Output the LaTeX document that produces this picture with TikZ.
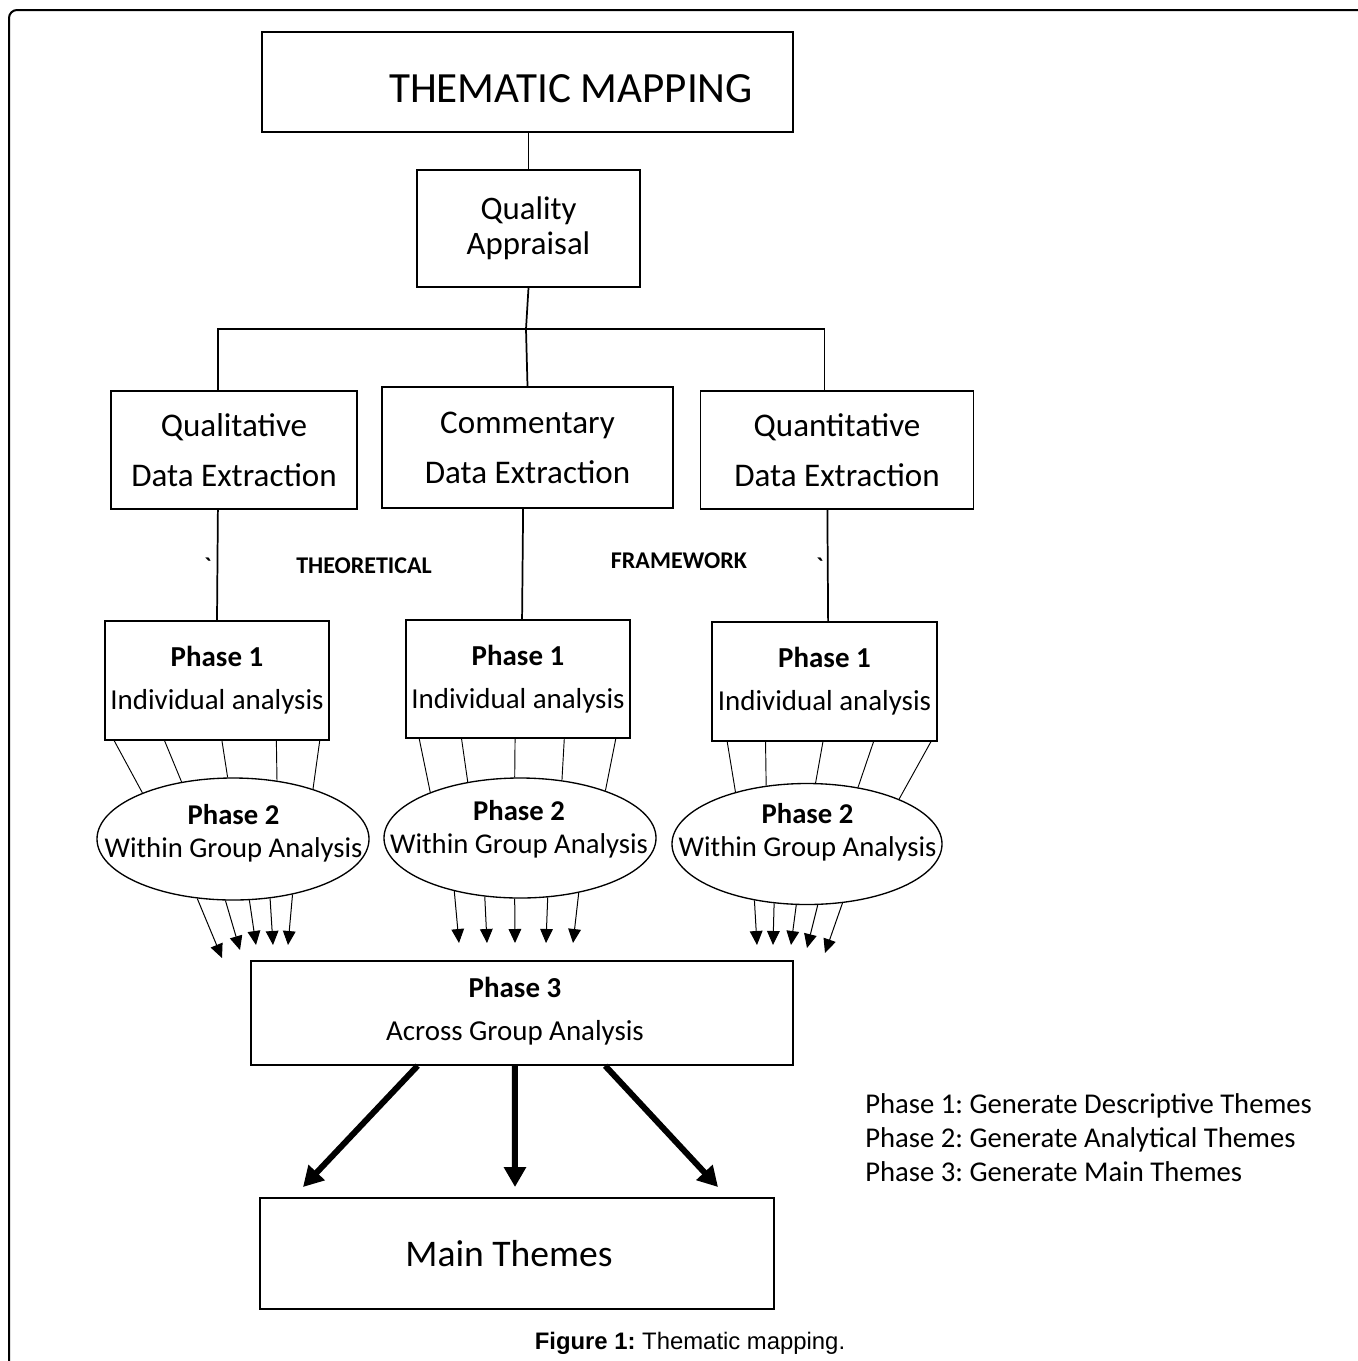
\documentclass[tikz,border=0pt]{standalone}
\usepackage{fontspec}
\setmainfont{Carlito}
\newfontfamily\capfont{Liberation Sans}
\usetikzlibrary{shapes.geometric,arrows.meta,calc}
\frenchspacing
\begin{document}
\begin{tikzpicture}[x=0.75pt,y=-0.75pt,
  box/.style={draw,line width=1.3pt,inner sep=0pt,align=center},
  ell/.style={draw,ellipse,line width=1pt,inner sep=0pt},
  conn/.style={line width=1.3pt},
  thinline/.style={line width=0.7pt},
  tarrow/.style={line width=0.75pt,-{Triangle[length=10.5pt,width=9.5pt]}},
  bigarrow/.style={line width=4.5pt,-{Triangle[length=15pt,width=16pt]}},
  ftitle/.style={font=\fontsize{32.3}{38}\selectfont},
  fqa/.style={font=\fontsize{24.6}{26.25}\selectfont},
  fde/.style={font=\fontsize{24.8}{37.5}\selectfont},
  fph/.style={font=\fontsize{21.7}{32.25}\selectfont},
  fel/.style={font=\fontsize{21.5}{24.75}\selectfont},
  fmain/.style={font=\fontsize{28.2}{34}\selectfont},
  flegend/.style={font=\fontsize{21.5}{25.5}\selectfont},
  ftheo/.style={font=\fontsize{18}{22}\selectfont\bfseries},
]
\useasboundingbox (0,0) rectangle (1358,1361);
% outer frame
\draw[line width=1.5pt,rounded corners=6pt] (1358,10) -- (9,10) -- (9,1361);

% title
\node[box,minimum width=398.25pt,minimum height=75pt] (title) at (527.5,82) {};
\node[ftitle] (titletext) at (571,89) {THEMATIC MAPPING};

% quality appraisal
\node[box,fqa,minimum width=167.25pt,minimum height=87.75pt] (qa) at (528.5,228.5) {Quality\\Appraisal};

% extraction boxes
\node[box,fde,minimum width=184.5pt,minimum height=88.5pt] (qual) at (234,450) {Qualitative\\Data Extraction};
\node[box,fde,minimum width=218.25pt,minimum height=90.75pt] (comm) at (527.5,447.5) {Commentary\\Data Extraction};
\node[box,fde,minimum width=204.75pt,minimum height=88.5pt] (quant) at (837,450) {Quantitative\\Data Extraction};

% top connectors
\coordinate (j) at (526,329);
\draw[conn] (title.south) -- (qa.south |- title.south) -- (qa.north);
\draw[conn] (qa.south) -- (j) -- (comm.north);
\draw[conn] ($(qual.north west)!0.435!(qual.north east)$) |- (j) -| ($(quant.north west)!0.454!(quant.north east)$);

% theoretical framework
\node[ftheo] (theo) at (364,566) {THEORETICAL};
\node[ftheo] (frame) at (679,561) {FRAMEWORK};
\node[ftheo] (tick1) at (208,566) {\textasciigrave};
\node[ftheo] (tick2) at (820,566) {\textasciigrave};

% phase 1 boxes
\node[box,fph,minimum width=168pt,minimum height=89.25pt] (p1a) at (217,680.5) {\textbf{Phase 1}\\Individual analysis};
\node[box,fph,minimum width=168pt,minimum height=88.5pt] (p1b) at (518,679) {\textbf{Phase 1}\\Individual analysis};
\node[box,fph,minimum width=168.75pt,minimum height=89.25pt] (p1c) at (824.5,681.5) {\textbf{Phase 1}\\Individual analysis};

\draw[conn] ($(qual.south west)!0.435!(qual.south east)$) -- (p1a.north);
\draw[conn] ($(comm.south west)!0.485!(comm.south east)$) -- ($(p1b.north west)!0.518!(p1b.north east)$);
\draw[conn] ($(quant.south west)!0.465!(quant.south east)$) -- ($(p1c.north west)!0.516!(p1c.north east)$);

% phase 2 ellipses
\node[ell,minimum width=204pt,minimum height=91.5pt] (e1) at (233,839) {};
\node[ell,minimum width=204pt,minimum height=90pt] (e2) at (520,838) {};
\node[ell,minimum width=202.5pt,minimum height=90.75pt] (e3) at (807,844) {};
\node[fel,align=center] (e1t) at (233.5,833) {\textbf{Phase 2}\\Within Group Analysis};
\node[fel,align=center] (e2t) at (519,829) {\textbf{Phase 2}\\Within Group Analysis};
\node[fel,align=center] (e3t) at (807.5,832) {\textbf{Phase 2}\\Within Group Analysis};

% phase1 -> phase2 lines
\foreach \f/\a in {0.045/153,0.268/132,0.522/95,0.763/53,0.955/32}
  \draw[thinline] ($(p1a.south west)!\f!(p1a.south east)$) -- (e1.\a);
\foreach \f/\a in {0.0625/153,0.25/133,0.487/95,0.705/54,0.933/29}
  \draw[thinline] ($(p1b.south west)!\f!(p1b.south east)$) -- (e2.\a);
\foreach \f/\a in {0.071/144,0.24/125,0.493/82,0.716/48,0.969/26}
  \draw[thinline] ($(p1c.south west)!\f!(p1c.south east)$) -- (e3.\a);

% phase2 -> phase3 arrows
\foreach \a/\x/\y [count=\i] in {239/222/958,263/240/950,285/256/945,302/273/945,317/288/945}{
  \coordinate (tl\i) at (\x,\y);
  \draw[tarrow] (e1.\a) -- (tl\i);}
\foreach \a/\x/\y [count=\i] in {219/459/943,239/487/943,265/515/943,295/546/943,317/573/943}{
  \coordinate (tm\i) at (\x,\y);
  \draw[tarrow] (e2.\a) -- (tm\i);}
\foreach \a/\x/\y [count=\i] in {227/757/945,241/773/945,260/791/945,280/807/948,301/825/953}{
  \coordinate (tr\i) at (\x,\y);
  \draw[tarrow] (e3.\a) -- (tr\i);}

% phase 3
\node[box,line width=1.1pt,minimum width=406.5pt,minimum height=78pt] (p3) at (522,1013) {};
\node[fph,align=center] (p3t) at (515,1011) {\textbf{Phase 3}\\Across Group Analysis};

% main themes
\node[box,minimum width=385.5pt,minimum height=83.25pt] (main) at (517,1253.5) {};
\node[fmain] (maint) at (509,1254) {Main Themes};

\coordinate (b1) at (303,1187);
\coordinate (b2) at (515,1187);
\coordinate (b3) at (718,1187);
\draw[bigarrow] ($(p3.south west)!0.308!(p3.south east)$) -- (b1);
\draw[bigarrow] ($(p3.south west)!0.487!(p3.south east)$) -- (b2);
\draw[bigarrow] ($(p3.south west)!0.653!(p3.south east)$) -- (b3);

% legend
\node[flegend,align=left,anchor=west,inner sep=0pt] (legend) at (865,1138) {Phase 1: Generate Descriptive Themes\\Phase 2: Generate Analytical Themes\\Phase 3: Generate Main Themes};

% caption
\node[font=\capfont\fontsize{17.9}{21}\selectfont] (caption) at (690,1343) {\textbf{Figure 1:} Thematic mapping.};
\end{tikzpicture}
\end{document}
